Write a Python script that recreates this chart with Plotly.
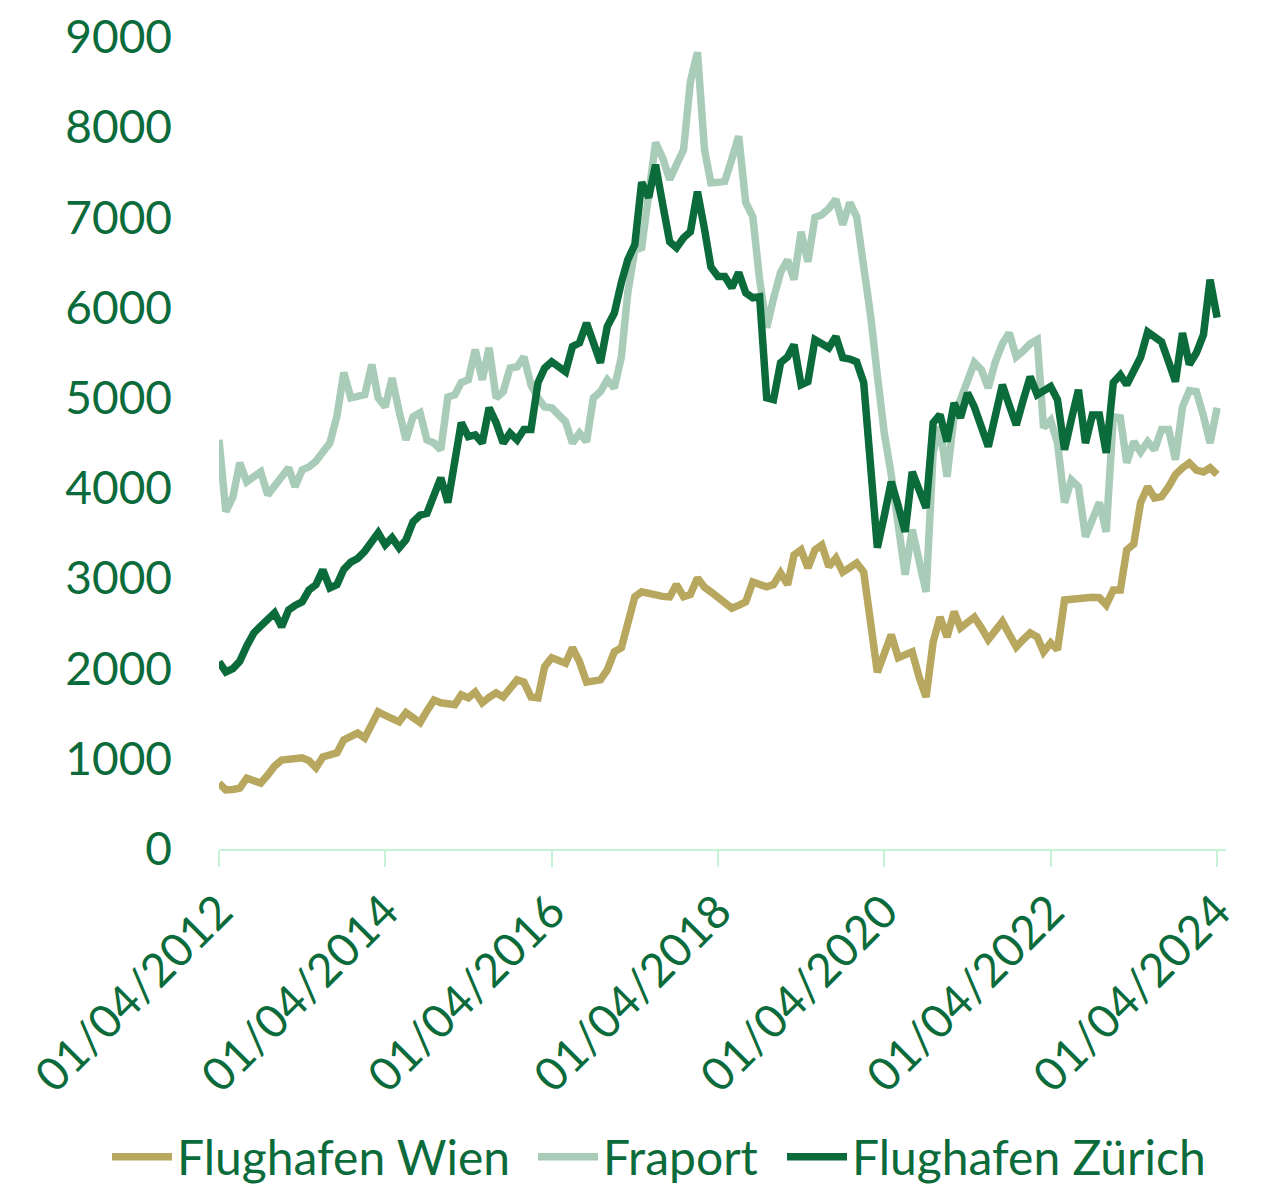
import pandas as pd
import plotly.graph_objects as go

# Monthly observations, April 2012 - April 2024
dates = pd.date_range("2012-04-01", periods=145, freq="MS")

wien = [730, 655, 660, 675, 785, 760, 730, 820, 920, 985,
        990, 1000, 1010, 980, 900, 1020, 1040, 1065, 1210, 1250,
        1285, 1230, 1380, 1520, 1480, 1440, 1410, 1510, 1450, 1400,
        1530, 1650, 1620, 1610, 1600, 1710, 1675, 1740, 1620, 1680,
        1730, 1685, 1780, 1875, 1850, 1685, 1675, 2020, 2120, 2090,
        2060, 2230, 2075, 1850, 1860, 1875, 1985, 2185, 2230, 2500,
        2795, 2850, 2830, 2820, 2800, 2795, 2930, 2795, 2820, 3005,
        2900, 2850, 2795, 2730, 2670, 2700, 2740, 2960, 2930, 2905,
        2930, 3060, 2930, 3260, 3315, 3115, 3315, 3370, 3130, 3225,
        3070, 3120, 3170, 3070, 2500, 1960, 2170, 2375, 2120, 2150,
        2185, 1900, 1685, 2295, 2570, 2350, 2630, 2450, 2510, 2570,
        2450, 2320, 2420, 2520, 2380, 2240, 2320, 2395, 2350, 2185,
        2285, 2210, 2760, 2770, 2780, 2795, 2790, 2785, 2705, 2870,
        2870, 3315, 3380, 3840, 4015, 3890, 3905, 4015, 4150, 4225,
        4280, 4200, 4180, 4225, 4150]

fraport = [4535, 3740, 3900, 4280, 4070, 4120, 4180, 3925, 4020, 4120,
           4225, 4015, 4200, 4235, 4300, 4400, 4500, 4800, 5280, 5000,
           5020, 5035, 5370, 5000, 4900, 5220, 4850, 4535, 4790, 4835,
           4535, 4500, 4425, 5010, 5035, 5170, 5200, 5535, 5200, 5555,
           5000, 5070, 5330, 5345, 5455, 5145, 5000, 4900, 4890, 4800,
           4735, 4500, 4610, 4515, 5000, 5070, 5200, 5110, 5455, 6165,
           6640, 6665, 7300, 7830, 7660, 7420, 7585, 7750, 8505, 8830,
           7750, 7385, 7390, 7400, 7650, 7900, 7165, 7010, 6310, 5780,
           6100, 6390, 6530, 6310, 6840, 6510, 7000, 7030, 7100, 7200,
           6920, 7165, 7010, 6500, 5900, 5250, 4600, 4150, 3600, 3040,
           3540, 3200, 2850, 4400, 4680, 4125, 4800, 4980, 5200, 5390,
           5310, 5110, 5400, 5600, 5720, 5455, 5520, 5600, 5645, 4670,
           4750, 4500, 3840, 4090, 4015, 3460, 3650, 3840, 3515, 4790,
           4780, 4280, 4515, 4400, 4515, 4425, 4650, 4650, 4315, 4900,
           5080, 5070, 4800, 4500, 4890]

zuerich = [2075, 1963, 2000, 2080, 2250, 2395, 2470, 2540, 2617, 2462,
           2650, 2700, 2740, 2870, 2930, 3094, 2894, 2930, 3100, 3180,
           3220, 3300, 3427, 3505, 3371, 3450, 3338, 3427, 3626, 3700,
           3720, 3900, 4115, 3840, 4300, 4725, 4570, 4590, 4500, 4890,
           4725, 4500, 4610, 4535, 4650, 4650, 5170, 5330, 5400, 5350,
           5290, 5570, 5610, 5830, 5600, 5390, 5790, 5940, 6280, 6530,
           6700, 7390, 7220, 7585, 7150, 6730, 6665, 6775, 6840, 7285,
           6870, 6450, 6345, 6345, 6220, 6390, 6165, 6110, 6120, 5000,
           4980, 5390, 5455, 5590, 5145, 5180, 5645, 5600, 5555, 5680,
           5445, 5430, 5400, 5170, 4250, 3340, 3700, 4070, 3800, 3515,
           4180, 3980, 3780, 4725, 4815, 4515, 4945, 4780, 5055, 4900,
           4680, 4460, 4800, 5145, 4920, 4700, 4970, 5235, 5035, 5080,
           5125, 4980, 4425, 4760, 5090, 4500, 4810, 4810, 4390, 5170,
           5255, 5145, 5300, 5450, 5730, 5680, 5620, 5400, 5180, 5720,
           5370, 5500, 5700, 6310, 5890]

series_names = ["Flughafen Wien", "Fraport", "Flughafen Zürich"]
series_colors = ["#B8A75F", "#A8CCB7", "#0B6B3B"]

tick_dates = ["2012-04-01", "2014-04-01", "2016-04-01", "2018-04-01",
              "2020-04-01", "2022-04-01", "2024-04-01"]
tick_labels = ["01/04/2012", "01/04/2014", "01/04/2016", "01/04/2018",
               "01/04/2020", "01/04/2022", "01/04/2024"]
y_ticks = [0, 1000, 2000, 3000, 4000, 5000, 6000, 7000, 8000, 9000]

text_color = "#0B6B3B"
font_family = "Lato, 'Open Sans', sans-serif"

legend_ids = ["legend", "legend2", "legend3"]
legend_x = [-0.1112, 0.3118, 0.5591]
legend_y = -0.3793

fig = go.Figure()
for name, vals, col, lid in zip(series_names, [wien, fraport, zuerich],
                                series_colors, legend_ids):
    fig.add_trace(go.Scatter(
        x=dates, y=vals, mode="lines", name=name, legend=lid,
        line=dict(color=col, width=7.5),
    ))

legend_style = dict(
    orientation="h", xref="paper", yref="paper",
    xanchor="left", yanchor="middle", y=legend_y,
    font=dict(size=48, color=text_color, family=font_family),
    itemwidth=60, bgcolor="rgba(0,0,0,0)",
)

fig.update_layout(
    width=1263, height=1186,
    margin=dict(l=219, r=37, t=37, b=337, autoexpand=False),
    paper_bgcolor="white", plot_bgcolor="white",
    font=dict(family=font_family, color=text_color, size=46),
    showlegend=True,
    legend=dict(x=legend_x[0], **legend_style),
    legend2=dict(x=legend_x[1], **legend_style),
    legend3=dict(x=legend_x[2], **legend_style),
)

fig.update_xaxes(
    type="date",
    range=["2012-04-01", "2024-05-10"],
    tickmode="array", tickvals=tick_dates, ticktext=tick_labels,
    tickangle=-45,
    tickfont=dict(size=46, color=text_color, family=font_family),
    showgrid=False, zeroline=False,
    showline=True, linecolor="#C6F2D6", linewidth=2,
    ticks="outside", ticklen=16, tickwidth=2, tickcolor="#C6F2D6",
    ticklabelstandoff=-1,
)

fig.update_yaxes(
    range=[0, 9000],
    tickmode="array", tickvals=y_ticks,
    tickfont=dict(size=46, color=text_color, family=font_family),
    showgrid=False, zeroline=False, showline=False,
    ticks="", ticklabelstandoff=46,
)

fig.write_html("out.html", config={"displayModeBar": False},
               post_script="document.body.style.margin='0';")
